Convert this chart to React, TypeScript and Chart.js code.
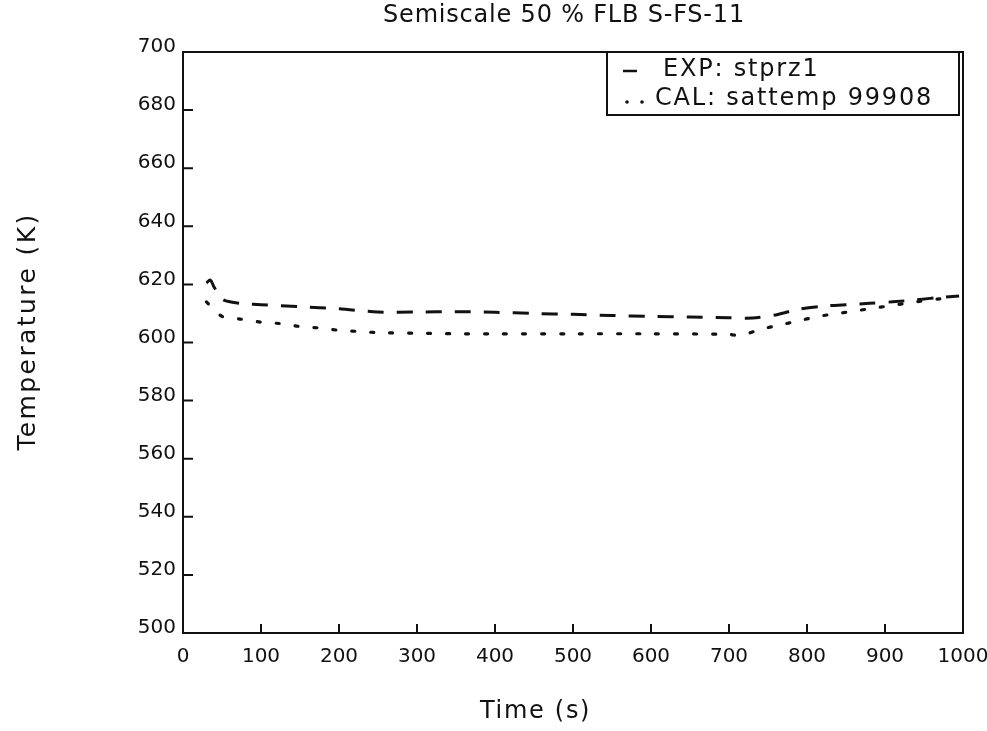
import React, { useEffect, useRef } from 'react';
import { Chart, registerables } from 'chart.js';

Chart.register(...registerables);

const expTime = [30, 35, 40, 50, 60, 80, 100, 150, 200, 250, 300, 350, 400, 450, 500, 550, 600, 650, 700, 730, 760, 790, 820, 850, 880, 910, 940, 970, 995];
const expTemp = [620.5, 621.5, 619, 615, 614, 613.3, 613, 612.3, 611.6, 610.5, 610.5, 610.6, 610.4, 610, 609.7, 609.3, 609, 608.8, 608.5, 608.4, 609.5, 611.5, 612.5, 613, 613.5, 614, 614.7, 615.5, 616];

const calTime = [30, 50, 75, 100, 125, 150, 175, 200, 225, 250, 300, 350, 400, 500, 600, 700, 715, 740, 765, 790, 815, 840, 865, 890, 915, 940, 970, 990];
const calTemp = [614, 609, 608, 607, 606.5, 605.5, 605, 604.2, 603.8, 603.4, 603.2, 603, 603, 603, 603, 602.8, 602.4, 604.5, 606, 607.5, 609, 610, 611, 612, 613, 614, 615, 615.3];

const xTicks = [0, 100, 200, 300, 400, 500, 600, 700, 800, 900, 1000];
const yTicks = [500, 520, 540, 560, 580, 600, 620, 640, 660, 680, 700];

const titleText = 'Semiscale 50 % FLB S-FS-11';
const xTitle = 'Time (s)';
const yTitle = 'Temperature (K)';
const legendLabels = ['EXP: stprz1', 'CAL: sattemp 99908'];

const INK = '#111111';
const FONT = '"DejaVu Sans"';

const overlay = {
  id: 'overlay',
  afterDraw(chart: any) {
    const { ctx, chartArea: a, scales } = chart;
    const xs = scales.x;
    const ys = scales.y;
    ctx.save();
    ctx.strokeStyle = INK;
    ctx.fillStyle = INK;
    ctx.lineWidth = 2;
    ctx.setLineDash([]);
    ctx.strokeRect(a.left, a.top, a.right - a.left, a.bottom - a.top);
    ctx.beginPath();
    xTicks.forEach((v) => {
      const px = xs.getPixelForValue(v);
      ctx.moveTo(px, a.bottom);
      ctx.lineTo(px, a.bottom - 9);
    });
    yTicks.forEach((v) => {
      const py = ys.getPixelForValue(v);
      ctx.moveTo(a.left, py);
      ctx.lineTo(a.left + 10, py);
    });
    ctx.stroke();

    // legend box
    const bx = a.right - 356;
    const by = a.top;
    const bw = 352;
    const bh = 63;
    ctx.strokeRect(bx, by, bw, bh);
    ctx.lineWidth = 2.5;
    ctx.beginPath();
    ctx.moveTo(bx + 16, by + 19);
    ctx.lineTo(bx + 30, by + 19);
    ctx.stroke();
    [bx + 20, bx + 35].forEach((cx) => {
      ctx.beginPath();
      ctx.arc(cx, by + 50, 1.8, 0, Math.PI * 2);
      ctx.fill();
    });

    ctx.textBaseline = 'middle';
    ctx.textAlign = 'left';
    ctx.letterSpacing = '1.8px';
    ctx.font = `24px ${FONT}`;
    ctx.fillText(legendLabels[0], bx + 56, by + 18);
    ctx.fillText(legendLabels[1], bx + 48, by + 47);

    ctx.textAlign = 'center';
    ctx.letterSpacing = '0.8px';
    ctx.font = `24px ${FONT}`;
    ctx.fillText(titleText, (a.left + a.right) / 2 - 9, a.top - 36);

    ctx.letterSpacing = '1.7px';
    ctx.font = `24px ${FONT}`;
    ctx.fillText(xTitle, a.left + (a.right - a.left) * 0.452, a.bottom + 79);

    ctx.save();
    ctx.translate(28, (a.top + a.bottom) / 2 - 11);
    ctx.rotate(-Math.PI / 2);
    ctx.letterSpacing = '2.4px';
    ctx.font = `25px ${FONT}`;
    ctx.fillText(yTitle, 0, 0);
    ctx.restore();

    ctx.restore();
  },
};

export default function App() {
  const ref = useRef<HTMLCanvasElement | null>(null);

  useEffect(() => {
    if (!ref.current) return;
    const chart = new Chart(ref.current, {
      type: 'line',
      data: {
        datasets: [
          {
            label: legendLabels[0],
            data: expTime.map((t, i) => ({ x: t, y: expTemp[i] })),
            borderColor: INK,
            borderWidth: 3,
            borderDash: [16, 13],
            pointRadius: 0,
            tension: 0.3,
            fill: false,
          },
          {
            label: legendLabels[1],
            data: calTime.map((t, i) => ({ x: t, y: calTemp[i] })),
            borderColor: INK,
            borderWidth: 3.2,
            borderDash: [3, 16],
            borderCapStyle: 'round',
            pointRadius: 0,
            tension: 0.3,
            fill: false,
          },
        ],
      },
      options: {
        animation: false,
        responsive: false,
        maintainAspectRatio: false,
        layout: { padding: { top: 52, right: 24, left: 0, bottom: 0 } },
        plugins: {
          legend: { display: false },
          title: { display: false },
          tooltip: { enabled: false },
        },
        scales: {
          x: {
            type: 'linear',
            min: 0,
            max: 1000,
            grid: { display: false, drawTicks: false },
            border: { display: false },
            ticks: {
              stepSize: 100,
              padding: 12,
              color: INK,
              font: { family: 'DejaVu Sans', size: 20 },
              maxRotation: 0,
              autoSkip: false,
              callback: (v: any) => String(v),
            },
            afterFit: (s: any) => {
              s.height = 98;
              s.paddingRight = 0;
              s.paddingLeft = 0;
            },
          },
          y: {
            type: 'linear',
            min: 500,
            max: 700,
            grid: { display: false, drawTicks: false },
            border: { display: false },
            ticks: {
              stepSize: 20,
              padding: 7,
              labelOffset: -5,
              color: INK,
              font: { family: 'DejaVu Sans', size: 20 },
              autoSkip: false,
              callback: (v: any) => String(v),
            },
            afterFit: (s: any) => {
              s.width = 183;
              s.paddingTop = 0;
              s.paddingBottom = 0;
            },
          },
        },
      },
      plugins: [overlay],
    });
    return () => chart.destroy();
  }, []);

  return (
    <div style={{ position: 'fixed', left: 0, top: 0, width: 987, height: 731, background: '#fff' }}>
      <canvas ref={ref} width={987} height={731} />
    </div>
  );
}
